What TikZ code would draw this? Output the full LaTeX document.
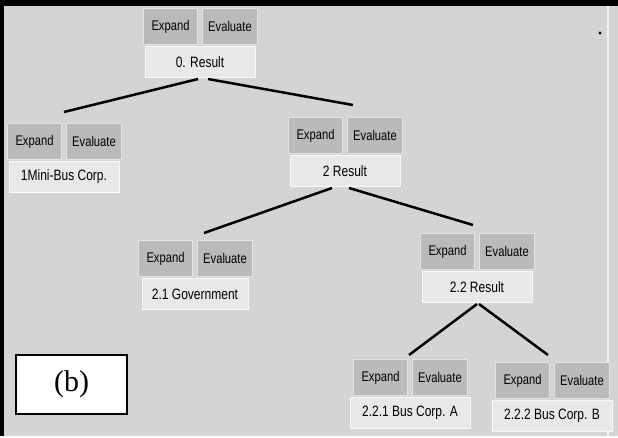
\documentclass[tikz,border=0pt]{standalone}
\usepackage{fontspec}
\setmainfont[FakeStretch=0.8]{Liberation Sans}
\newfontfamily\capfont{Liberation Serif}
\usetikzlibrary{positioning}
\definecolor{panel}{HTML}{D4D4D4}
\definecolor{btnface}{HTML}{BABABA}
\definecolor{btndark}{HTML}{8C8C8C}
\definecolor{lblface}{HTML}{E8E8E8}
\tikzset{
  btn/.style={fill=btnface,draw=white!60!btnface,line width=1pt,minimum width=54pt,minimum height=36pt,
    inner sep=0pt,anchor=north west,font=\fontsize{14}{16}\selectfont,
    path picture={\draw[btndark,line width=2pt](path picture bounding box.south west)--(path picture bounding box.south east)--(path picture bounding box.north east);}},
  lbl/.style={fill=lblface,draw=white!70!lblface,line width=1pt,minimum height=31pt,inner sep=0pt,
    anchor=north,font=\fontsize{15}{17}\selectfont},
  branch/.style={line width=2.5pt}
}
\begin{document}
\begin{tikzpicture}[x=1pt,y=-1pt]
\fill[panel](0,0)rectangle(618,436);
\fill(0,0)rectangle(618,6);
\fill(0,0)rectangle(4,436);
\draw[white!75!panel,line width=2pt](608,6)--(608,436);
\fill(600,33)circle(1.6);
% tree nodes: name/x/y/label width/label
\foreach\nm/\px/\py/\lw/\txt in{n0/143/8/110/{0. Result},n1/7/123/110/{1Mini-Bus Corp.},
  n2/288/117/110/{2 Result},n21/138/240/106/{2.1 Government},n22/420/233/110/{2.2 Result},
  n221/353/359/120/{2.2.1 Bus Corp. A},n222/495/362/120/{2.2.2 Bus Corp. B}}{
\node[btn](\nm-exp)at(\px,\py){Expand};
\node[btn,right=4pt of \nm-exp,minimum width=55pt](\nm-eval){Evaluate};
\node[lbl,minimum width=\lw pt](\nm-res)at([xshift=2pt,yshift=-1pt]\nm-exp.south east){\txt};
}
% connectors: parent/child/start shift/end shift/gap
\foreach\pa/\ch/\a/\b/\g in{n0/n1/-2/2/11,n0/n2/8/10/12,n2/n21/-13/11/7,n2/n22/4/-2/8,
  n22/n221/0/1/4,n22/n222/2/-2/7}
\draw[branch]([xshift=\a pt,yshift=-1pt]\pa-res.south)--([xshift=\b pt,yshift=\g pt]\ch-exp.north east);
\node[draw,fill=white,line width=1.6pt,minimum width=111pt,minimum height=59pt,
  font=\capfont\fontsize{30}{32}\selectfont](tag)at(71.5,384.5){(b)};
\end{tikzpicture}
\end{document}
